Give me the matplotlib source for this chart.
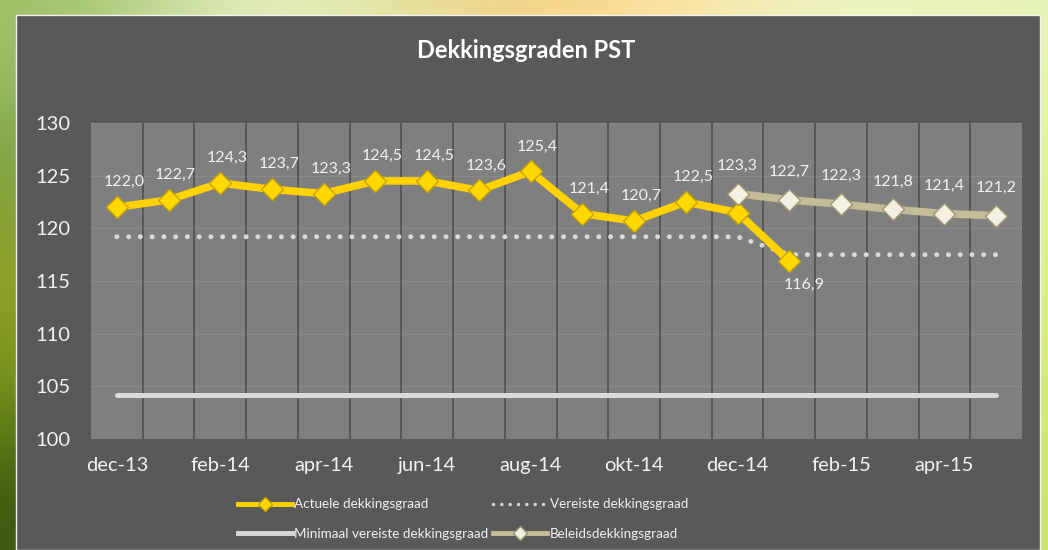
import matplotlib
matplotlib.use('Agg')
import matplotlib.pyplot as plt
from matplotlib.patches import Rectangle
from matplotlib.lines import Line2D
import numpy as np

plt.rcParams['font.family'] = ['Lato', 'DejaVu Sans']

# data
months = ['dec-13', 'jan-14', 'feb-14', 'mrt-14', 'apr-14', 'mei-14', 'jun-14', 'jul-14',
          'aug-14', 'sep-14', 'okt-14', 'nov-14', 'dec-14', 'jan-15', 'feb-15', 'mrt-15',
          'apr-15', 'mei-15']
actueel = [122.0, 122.7, 124.3, 123.7, 123.3, 124.5, 124.5, 123.6, 125.4, 121.4, 120.7,
           122.5, 121.5, 116.9]
actueel_labels = ['122,0', '122,7', '124,3', '123,7', '123,3', '124,5', '124,5', '123,6',
                  '125,4', '121,4', '120,7', '122,5', '', '116,9']
vereist = [119.2] * 13 + [117.5] * 5
minimaal = [104.2] * 18
beleid_start = 12  # dec-14
beleid = [123.3, 122.7, 122.3, 121.8, 121.4, 121.2]
beleid_labels = ['123,3', '122,7', '122,3', '121,8', '121,4', '121,2']

W, H = 1048, 550
fig = plt.figure(figsize=(W / 100, H / 100), dpi=100)

# blurred photo behind the chart panel (rough colour field)
bg = fig.add_axes([0, 0, 1, 1], zorder=-10)
cols = np.array([
    [[0.62, 0.76, 0.40], [0.90, 0.94, 0.77], [0.87, 0.91, 0.66], [0.97, 0.81, 0.50], [0.99, 0.89, 0.63], [0.93, 0.96, 0.78], [0.91, 0.96, 0.72]],
    [[0.45, 0.62, 0.25], [0.85, 0.90, 0.70], [0.85, 0.90, 0.70], [0.90, 0.88, 0.65], [0.92, 0.92, 0.70], [0.90, 0.95, 0.70], [0.88, 0.95, 0.62]],
    [[0.58, 0.62, 0.12], [0.80, 0.85, 0.55], [0.80, 0.85, 0.55], [0.85, 0.85, 0.55], [0.85, 0.88, 0.55], [0.88, 0.94, 0.60], [0.86, 0.94, 0.55]],
    [[0.45, 0.58, 0.10], [0.75, 0.80, 0.45], [0.75, 0.80, 0.45], [0.80, 0.82, 0.45], [0.80, 0.85, 0.45], [0.85, 0.92, 0.50], [0.84, 0.92, 0.48]],
    [[0.22, 0.33, 0.05], [0.60, 0.70, 0.30], [0.60, 0.70, 0.30], [0.70, 0.75, 0.35], [0.75, 0.80, 0.40], [0.80, 0.90, 0.45], [0.80, 0.90, 0.45]],
])
bg.imshow(cols, aspect='auto', interpolation='bicubic', extent=[0, 1, 0, 1])
bg.set_axis_off()

# dark chart panel
fig.patches.append(Rectangle((16 / W, 0), (1040 - 16) / W, 1 - 15 / H,
                             transform=fig.transFigure, facecolor='#595959',
                             edgecolor='#f2f2f2', linewidth=1, zorder=-5))

ax = fig.add_axes([91 / W, 1 - 439 / H, (1022 - 91) / W, (439 - 123) / H])
ax.set_facecolor('#7f7f7f')
x = np.arange(len(months))
ax.set_xlim(-0.5, len(months) - 0.5)
ax.set_ylim(100, 130)
ax.set_yticks(range(100, 131, 5))

for s in ax.spines.values():
    s.set_visible(False)
for yv in range(105, 131, 5):
    ax.axhline(yv, color='#8a8a8a', lw=0.8, zorder=0)
for xv in np.arange(0.5, len(months) - 1, 1.0):
    ax.axvline(xv, color='#505050', lw=1.2, zorder=0.5)

ax.set_xticks(x[::2])
ax.set_xticklabels(months[::2])
ax.tick_params(axis='both', length=0, colors='#f2f2f2', labelsize=14.5)
ax.tick_params(axis='y', pad=15)
ax.tick_params(axis='x', pad=13)

ax.plot(x, minimaal, color='#d9d9d9', lw=3.6, solid_capstyle='round', zorder=2)
ax.plot(x, vereist, color='#d9d9d9', lw=3.6, dashes=(0.001, 2.35),
        dash_capstyle='round', zorder=2)
ax.plot(x[:len(actueel)], actueel, color='#ffd200', lw=5.5, marker='D', ms=11.5,
        mfc='#ffd800', mec='#c9a400', mew=1, solid_joinstyle='round', zorder=3)
xb = x[beleid_start:beleid_start + len(beleid)]
ax.plot(xb, beleid, color='#c4bd97', lw=5.5, marker='D', ms=11.5,
        mfc='#f2f0e0', mec='#9c9670', mew=1, solid_joinstyle='round', zorder=4)

for xi, v, lab in zip(x, actueel, actueel_labels):
    if not lab:
        continue
    if v < 118:
        ax.annotate(lab, (xi, v), xytext=(11, -17), textcoords='offset points',
                    ha='center', va='center', color='#f2f2f2', fontsize=11.5)
    else:
        ax.annotate(lab, (xi, v), xytext=(5, 18), textcoords='offset points',
                    ha='center', va='center', color='#f2f2f2', fontsize=11.5)
for xi, v, lab in zip(xb, beleid, beleid_labels):
    ax.annotate(lab, (xi, v), xytext=(0, 20), textcoords='offset points',
                ha='center', va='center', color='#f2f2f2', fontsize=11.5)

fig.text(526 / W, 1 - 50 / H, 'Dekkingsgraden PST', ha='center', va='center',
         color='white', fontsize=17, fontweight='bold')

# legend
h_act = Line2D([], [], color='#ffd200', lw=3.5, marker='D', ms=7, mfc='#ffd800', mec='#c9a400')
h_ver = Line2D([], [], color='#d9d9d9', lw=2.5, dashes=(0.001, 2.4), dash_capstyle='round')
h_min = Line2D([], [], color='#d9d9d9', lw=3.5)
h_bel = Line2D([], [], color='#c4bd97', lw=3.5, marker='D', ms=7, mfc='#f2f0e0', mec='#9c9670')
leg = fig.legend([h_act, h_min, h_ver, h_bel],
                 ['Actuele dekkingsgraad', 'Minimaal vereiste dekkingsgraad',
                  'Vereiste dekkingsgraad', 'Beleidsdekkingsgraad'],
                 ncol=2, loc='center', bbox_to_anchor=(463 / W, 1 - 519 / H),
                 frameon=False, fontsize=9.7, labelcolor='#f2f2f2', handlelength=4.0,
                 handletextpad=0.2, columnspacing=0.35, labelspacing=1.3, numpoints=1)

fig.savefig('out.png', dpi=100)
